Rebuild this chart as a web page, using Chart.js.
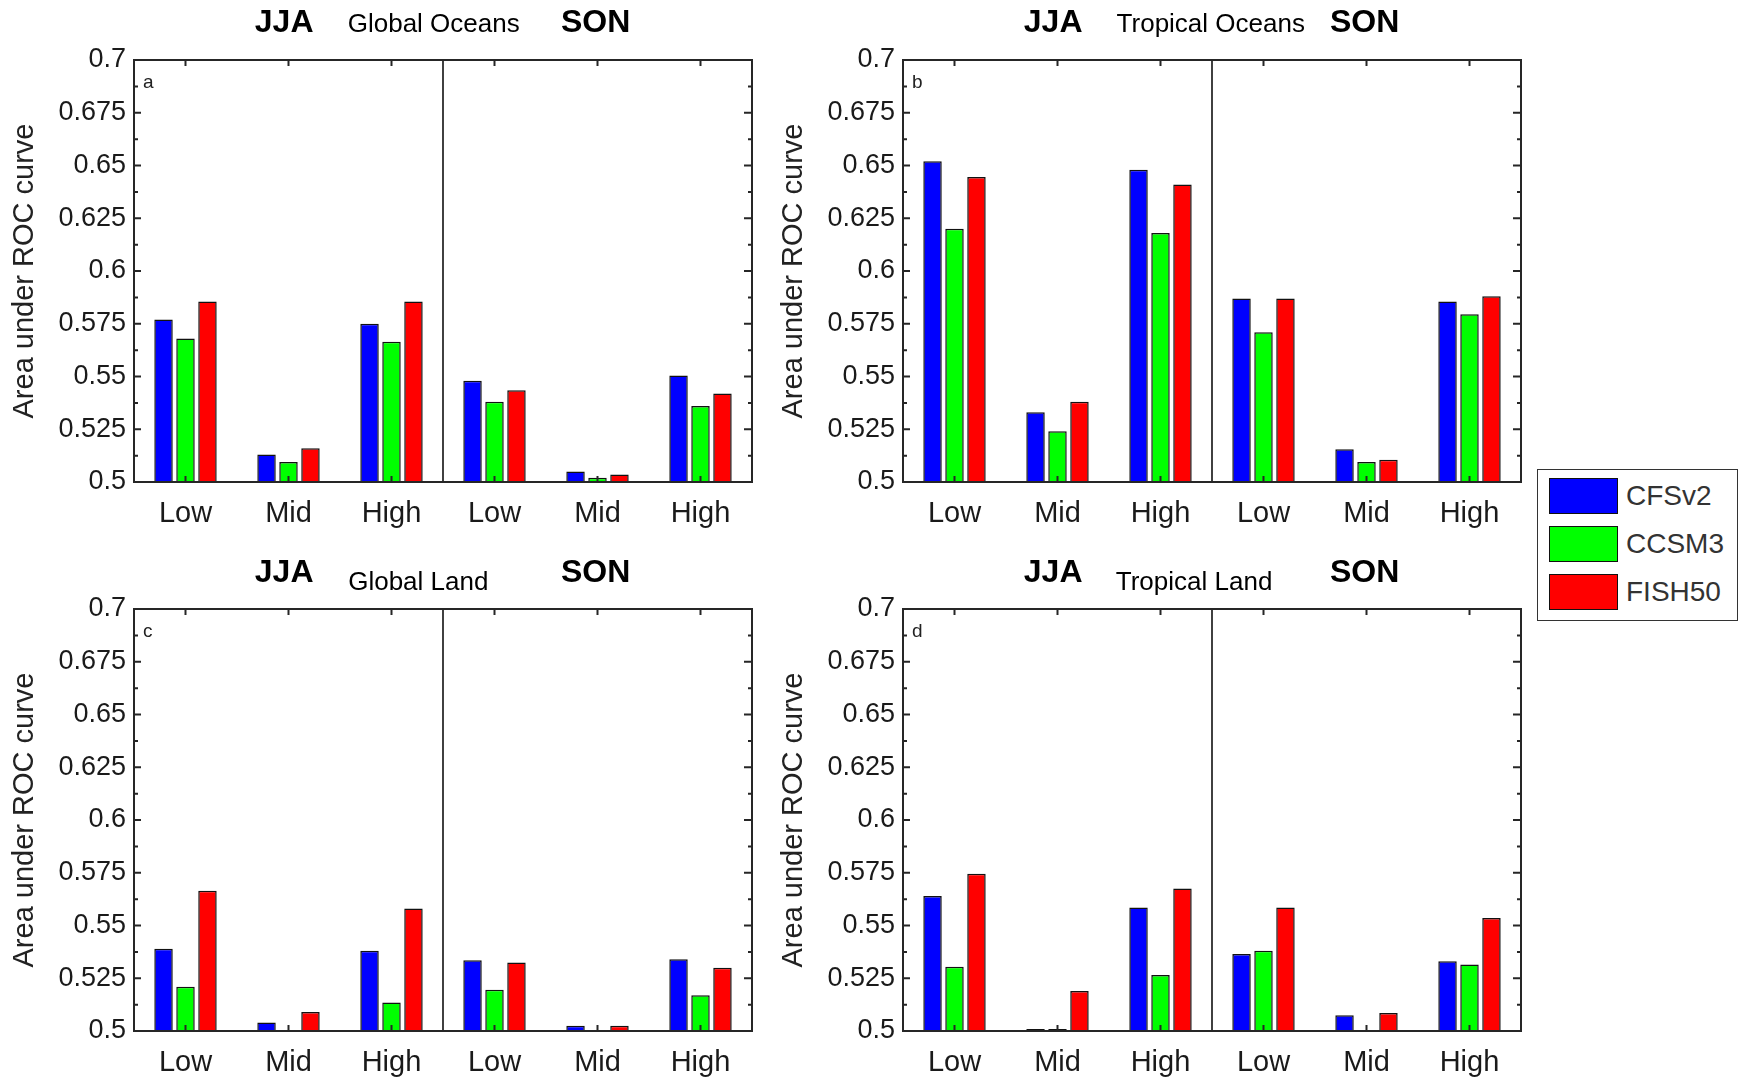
<!DOCTYPE html>
<html>
<head>
<meta charset="utf-8">
<script src="https://cdn.jsdelivr.net/npm/chart.js@4.4.1/dist/chart.umd.min.js"></script>
<style>
    body {
        margin: 0;
        width: 1748px;
        height: 1079px;
        overflow: hidden;
        position: relative;
        background: #ffffff;
        font-family: 'Liberation Sans', Arial, sans-serif;
    }
    .panel {
        position: absolute;
        width: 770px;
    }
    #legend {
        position: absolute;
        left: 1537px;
        top: 469px;
        width: 199px;
        height: 150px;
        border: 1.5px solid #333;
        background: #fff;
    }
    .legend-row {
        position: absolute;
        left: 11px;
        height: 36px;
        display: flex;
        align-items: center;
    }
    .legend-swatch {
        width: 67px;
        height: 34px;
        border: 1.5px solid #111;
        margin-right: 8px;
    }
    .legend-text {
        font-size: 28px;
        color: #333;
    }
</style>
</head>
<body>

<div class="panel" style="left:0px;top:0px;height:540px"><canvas id="chart-a"></canvas></div>
<div class="panel" style="left:769px;top:0px;height:540px"><canvas id="chart-b"></canvas></div>
<div class="panel" style="left:0px;top:549px;height:530px"><canvas id="chart-c"></canvas></div>
<div class="panel" style="left:769px;top:549px;height:530px"><canvas id="chart-d"></canvas></div>
<div id="legend"></div>

<script>
// categories: 3 cloud levels for JJA, then the same for SON
const categories = ['Low', 'Mid', 'High', 'Low', 'Mid', 'High'];
const seriesNames = ['CFSv2', 'CCSM3', 'FISH50'];
const seriesColors = ['#0000ff', '#00ff00', '#ff0000'];
const yTicksMin = 0.5;
const yTicksMax = 0.7;
const yTickStep = 0.025;

// (a) Global Oceans
const globalOceansCFSv2 = [0.577, 0.513, 0.575, 0.548, 0.505, 0.5505];
const globalOceansCCSM3 = [0.568, 0.5095, 0.5665, 0.538, 0.502, 0.536];
const globalOceansFISH50 = [0.5855, 0.516, 0.5855, 0.5435, 0.5035, 0.542];

// (b) Tropical Oceans
const tropicalOceansCFSv2 = [0.652, 0.533, 0.648, 0.587, 0.5155, 0.5855];
const tropicalOceansCCSM3 = [0.62, 0.524, 0.618, 0.571, 0.5095, 0.5795];
const tropicalOceansFISH50 = [0.6445, 0.538, 0.641, 0.587, 0.5105, 0.588];

// (c) Global Land (null = below 0.5, not visible)
const globalLandCFSv2 = [0.539, 0.504, 0.538, 0.5335, 0.5025, 0.534];
const globalLandCCSM3 = [0.521, null, 0.5135, 0.5195, null, 0.517];
const globalLandFISH50 = [0.5665, 0.509, 0.558, 0.5325, 0.5025, 0.53];

// (d) Tropical Land
const tropicalLandCFSv2 = [0.564, 0.501, 0.5585, 0.5365, 0.5075, 0.533];
const tropicalLandCCSM3 = [0.5305, 0.501, 0.5265, 0.538, null, 0.5315];
const tropicalLandFISH50 = [0.5745, 0.519, 0.5675, 0.5585, 0.5085, 0.5535];

const FONT = "'Liberation Sans', Arial, Helvetica, sans-serif";
const TEXT = '#1a1a1a';
const AXIS = '#262626';

// MATLAB style box, inward ticks, season divider and panel titles
const matlabAxes = {
    id: 'matlabAxes',
    afterDatasetsDraw(chart, args, opts) {
        const { ctx, chartArea: area, scales: { x, y } } = chart;
        ctx.save();
        ctx.strokeStyle = AXIS;
        ctx.lineWidth = 2;

        const values = y.ticks.map(t => t.value);
        ctx.beginPath();
        values.forEach((v, i) => {
            const py = y.getPixelForValue(v);
            ctx.moveTo(area.left, py); ctx.lineTo(area.left + 7, py);
            ctx.moveTo(area.right, py); ctx.lineTo(area.right - 8, py);
            if (i < values.length - 1) {
                const pm = y.getPixelForValue((v + values[i + 1]) / 2);
                ctx.moveTo(area.left, pm); ctx.lineTo(area.left + 4, pm);
                ctx.moveTo(area.right, pm); ctx.lineTo(area.right - 4, pm);
            }
        });
        x.ticks.forEach((t, i) => {
            const px = x.getPixelForTick(i);
            ctx.moveTo(px, area.top); ctx.lineTo(px, area.top + 6);
            ctx.moveTo(px, area.bottom); ctx.lineTo(px, area.bottom - 6);
        });
        ctx.stroke();

        // JJA | SON divider
        const mid = (x.getPixelForValue(2) + x.getPixelForValue(3)) / 2;
        ctx.beginPath();
        ctx.lineWidth = 1.6;
        ctx.strokeStyle = '#111';
        ctx.moveTo(mid, area.top);
        ctx.lineTo(mid, area.bottom);
        ctx.stroke();

        ctx.lineWidth = 2;
        ctx.strokeStyle = AXIS;
        ctx.strokeRect(area.left, area.top, area.width, area.height);

        // titles
        ctx.fillStyle = '#000';
        ctx.textAlign = 'center';
        ctx.textBaseline = 'alphabetic';
        ctx.font = 'bold 32px ' + FONT;
        ctx.fillText('JJA', area.left + area.width * 0.243, area.top - opts.seasonDy);
        ctx.fillText('SON', area.left + area.width * 0.747, area.top - opts.seasonDy);
        ctx.font = '26px ' + FONT;
        ctx.fillText(opts.region, area.left + area.width * opts.regionX, area.top - opts.regionDy);

        ctx.textAlign = 'left';
        ctx.font = '19px ' + FONT;
        ctx.fillStyle = '#222';
        ctx.fillText(opts.letter, area.left + 9, area.top + 28);
        ctx.restore();
    }
};

function makePanel(canvasId, panel, cfsv2, ccsm3, fish50) {
    const ctx = document.getElementById(canvasId).getContext('2d');
    const data = [cfsv2, ccsm3, fish50];
    return new Chart(ctx, {
        type: 'bar',
        data: {
            labels: categories,
            datasets: seriesNames.map((name, i) => ({
                label: name,
                data: data[i],
                backgroundColor: seriesColors[i],
                borderColor: '#111',
                borderWidth: 1.5,
                borderSkipped: 'start',
                categoryPercentage: 0.64,
                barPercentage: 0.84
            }))
        },
        options: {
            responsive: true,
            maintainAspectRatio: false,
            animation: false,
            layout: {
                padding: { left: 0, right: 18, top: 60, bottom: 0 }
            },
            scales: {
                x: {
                    grid: { display: false, drawTicks: false },
                    border: { display: false },
                    ticks: {
                        color: TEXT,
                        padding: 15,
                        maxRotation: 0,
                        autoSkip: false,
                        font: { family: FONT, size: 29 }
                    },
                    afterFit: scale => { scale.height = panel.xHeight; }
                },
                y: {
                    min: yTicksMin,
                    max: yTicksMax,
                    grid: { display: false, drawTicks: false },
                    border: { display: false },
                    ticks: {
                        stepSize: yTickStep,
                        color: TEXT,
                        padding: 8,
                        font: { family: FONT, size: 27 },
                        callback: value => String(+value.toFixed(3))
                    },
                    title: {
                        display: true,
                        text: 'Area under ROC curve',
                        color: '#222',
                        padding: { top: 8, bottom: 0 },
                        font: { family: FONT, size: 29 }
                    },
                    afterFit: scale => { scale.width = 134; }
                }
            },
            plugins: {
                legend: { display: false },
                tooltip: { enabled: false },
                matlabAxes: panel
            }
        },
        plugins: [matlabAxes]
    });
}

makePanel('chart-a', { letter: 'a', region: 'Global Oceans', regionX: 0.485, regionDy: 28, seasonDy: 28, xHeight: 58 },
    globalOceansCFSv2, globalOceansCCSM3, globalOceansFISH50);
makePanel('chart-b', { letter: 'b', region: 'Tropical Oceans', regionX: 0.498, regionDy: 28, seasonDy: 28, xHeight: 58 },
    tropicalOceansCFSv2, tropicalOceansCCSM3, tropicalOceansFISH50);
makePanel('chart-c', { letter: 'c', region: 'Global Land', regionX: 0.46, regionDy: 19, seasonDy: 27, xHeight: 48 },
    globalLandCFSv2, globalLandCCSM3, globalLandFISH50);
makePanel('chart-d', { letter: 'd', region: 'Tropical Land', regionX: 0.471, regionDy: 19, seasonDy: 27, xHeight: 48 },
    tropicalLandCFSv2, tropicalLandCCSM3, tropicalLandFISH50);

// legend box
const legend = document.getElementById('legend');
seriesNames.forEach((name, i) => {
    const row = document.createElement('div');
    row.className = 'legend-row';
    row.style.top = (8 + i * 48) + 'px';
    row.innerHTML = '<div class="legend-swatch" style="background:' + seriesColors[i] + '"></div>' +
        '<span class="legend-text">' + name + '</span>';
    legend.appendChild(row);
});
</script>
</body>
</html>
